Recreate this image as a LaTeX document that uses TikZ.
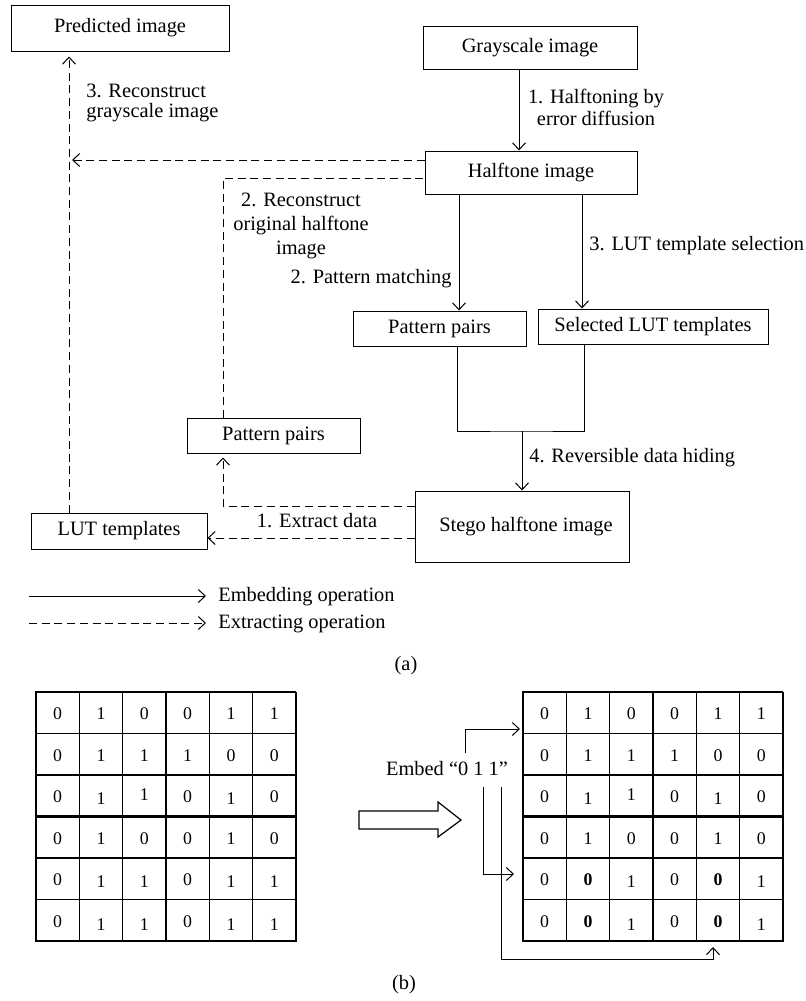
\documentclass[tikz,border=0pt]{standalone}
\usepackage{fontspec}
\setmainfont{Liberation Serif}
\usetikzlibrary{arrows.meta}
\begin{document}
\begin{tikzpicture}[x=0.5pt,y=-0.5pt,
  box/.style={draw,line width=0.5pt,inner sep=0pt,font=\fontsize{10.2}{12}\selectfont},
  lbl/.style={inner sep=0pt,font=\fontsize{10.2}{12}\selectfont},
  emb/.style={line width=0.5pt,-{Straight Barb[length=3.5pt,width=6.5pt]}},
  ext/.style={emb,dash pattern=on 4pt off 2.35pt},
  extline/.style={line width=0.5pt,dash pattern=on 4pt off 2.35pt},
  plain/.style={line width=0.5pt},
  digit/.style={inner sep=0pt,font=\fontsize{8.9}{10}\selectfont,text height=0.676em,text depth=0pt},
  gridthin/.style={line width=0.55pt},
  gridthick/.style={line width=1.3pt},
]
\useasboundingbox (0,0) rectangle (806,1001);

% ---------------- (a) flow chart ----------------
\node[box,minimum width=109pt,minimum height=23pt]   (pred)  at (120,28)    {Predicted image};
\node[box,minimum width=107pt,minimum height=21.5pt] (gray)  at (530,47.5)  {Grayscale image};
\node[box,minimum width=106pt,minimum height=21.5pt] (half)  at (531,172.5) {Halftone image};
\node[box,minimum width=86.5pt,minimum height=17.5pt] (pp1)  at (439.5,328.5) {Pattern pairs};
\node[box,minimum width=115pt,minimum height=17.5pt] (sel)   at (653,326.5) {Selected LUT templates};
\node[box,minimum width=86.5pt,minimum height=17.5pt] (pp2)  at (273.5,435.5) {Pattern pairs};
\node[box,minimum width=107pt,minimum height=35.5pt] (stego) at (522,526.5) {\hspace*{4pt}Stego halftone image};
\node[box,minimum width=88pt,minimum height=18pt]    (lut)   at (119,531)   {LUT templates};

% reference columns and rows for the connectors
\coordinate (xg) at (519,0);
\coordinate (xa) at (459,0);
\coordinate (xb) at (582,0);
\coordinate (xc) at (457,0);
\coordinate (xd) at (584,0);
\coordinate (xe) at (223,0);
\coordinate (xv) at (69,0);
\coordinate (ya) at (0,506);
\coordinate (yb) at (0,538);
\coordinate (yc) at (0,160);
\coordinate (yd) at (0,178);
\coordinate (j)  at (522,431);

% embedding path
\draw[emb] (gray.south -| xg) -- (half.north -| xg);
\draw[emb] (half.south -| xa) -- (pp1.north -| xa);
\draw[emb] (half.south -| xb) -- (sel.north -| xb);
\draw[plain] (pp1.south -| xc) |- (j) -| (sel.south -| xd);
\draw[emb] (j) -- (stego.north -| j);

% extracting path
\draw[ext,shorten >=2pt] (stego.west |- ya) -| (pp2.south -| xe);
\draw[ext] (stego.west |- yb) -- (lut.east |- yb);
\draw[ext,shorten >=2.5pt] (lut.north -| xv) -- (pred.south -| xv);
\draw[ext,shorten >=1.5pt] (half.west |- yc) -- (xv |- yc);
\draw[extline] (pp2.north -| xe) |- (half.west |- yd);

% step labels (multi-line ones sit on the baseline of their last line)
\node[lbl,anchor=base west,align=left,font=\fontsize{10.2}{10}\selectfont] (t3) at (86,117) {3. Reconstruct\\grayscale image};
\node[lbl,anchor=base,align=center,font=\fontsize{10.2}{11}\selectfont] (t1) at (596,125) {1. Halftoning by\\error diffusion};
\node[lbl,anchor=base,align=center,font=\fontsize{10.2}{12}\selectfont] (t2) at (301,254) {2. Reconstruct\\original halftone\\image};
\node[lbl,anchor=base west] (t3b) at (589,250) {3. LUT template selection};
\node[lbl,anchor=base east] (t2b) at (452,283) {2. Pattern matching};
\node[lbl,anchor=base west] (t4)  at (529,462) {4. Reversible data hiding};
\node[lbl,anchor=base]      (t1b) at (317,527) {1. Extract data};

% legend
\node[lbl,anchor=base west] (lgA) at (218,601) {Embedding operation};
\node[lbl,anchor=base west] (lgB) at (218,628) {Extracting operation};
\coordinate (lgAs) at (29,596);
\coordinate (lgBs) at (29,623);
\draw[emb,shorten >=6pt] (lgAs) -- (lgAs -| lgA.west);
\draw[ext,shorten >=6pt] (lgBs) -- (lgBs -| lgB.west);

\node[lbl] (capa) at (406,666) {(a)};

% ---------------- (b) embedding example ----------------
\foreach \gx in {36,523} {
  \foreach \i in {0,...,6} {
    \draw[gridthin] (\gx+\i*43.333,692) -- (\gx+\i*43.333,941);
    \draw[gridthin] (\gx,692+\i*41.5) -- (\gx+260,692+\i*41.5);
  }
  \draw[gridthick] (\gx,692) rectangle (\gx+130,816.5);
  \draw[gridthick] (\gx,816.5) rectangle (\gx+260,941);
}

% original block values (value/vertical nudge)
\foreach \row/\entries in {
  1/{0/0,1/0,0/0,0/0,1/0,1/0},
  2/{0/0,1/0,1/0,1/0,0/0,0/0},
  3/{0/0,1/1.5,1/-2,0/0,1/1.5,0/0},
  4/{0/0,1/0,0/0,0/0,1/0,0/0},
  5/{0/0,1/2.3,1/2.3,0/0,1/2.3,1/2.3},
  6/{0/0,1/3.3,1/3.3,0/0,1/3.3,1/3.3}} {
  \foreach \v/\dy [count=\col] in \entries {
    \node[digit] (L-\row-\col) at (36+\col*43.333-21.667,692+\row*41.5-20.75+\dy) {\v};
  }
}

% block values after embedding
\foreach \row/\entries in {
  1/{0/0,1/0,0/0,0/0,1/0,1/0},
  2/{0/0,1/0,1/0,1/0,0/0,0/0},
  3/{0/0,1/1.5,1/-2,0/0,1/1.5,0/0},
  4/{0/0,1/0,0/0,0/0,1/0,0/0},
  5/{0/0,{\textbf{0}}/0,1/2.3,0/0,{\textbf{0}}/0,1/2.3},
  6/{0/0,{\textbf{0}}/0,1/3.3,0/0,{\textbf{0}}/0,1/3.3}} {
  \foreach \v/\dy [count=\col] in \entries {
    \node[digit] (R-\row-\col) at (523+\col*43.333-21.667,692+\row*41.5-20.75+\dy) {\v};
  }
}

% hollow transition arrow
\draw[line width=0.6pt] (359,811) -- (438,811) -- (438,802) -- (461,820)
  -- (438,837) -- (438,829) -- (359,829) -- cycle;

% embedded bits and where they go
\node[lbl,anchor=base] (embed) at (447,775) {Embed “0 1 1”};
\coordinate (Rw) at (523,0);
\coordinate (Rb) at (0,941);
\coordinate (e1) at (465,753);
\coordinate (e1y) at (0,729);
\coordinate (e2) at (483,787);
\coordinate (e2y) at (0,874);
\coordinate (e3) at (501,787);
\coordinate (e3c) at (713,959);
\draw[emb,shorten >=1.5pt] (e1) |- (Rw |- e1y);
\draw[emb,shorten >=4.5pt] (e2) |- (Rw |- e2y);
\draw[emb,shorten >=3pt] (e3) |- (e3c) -- (e3c |- Rb);

\node[lbl] (capb) at (404,985) {(b)};
\end{tikzpicture}
\end{document}
